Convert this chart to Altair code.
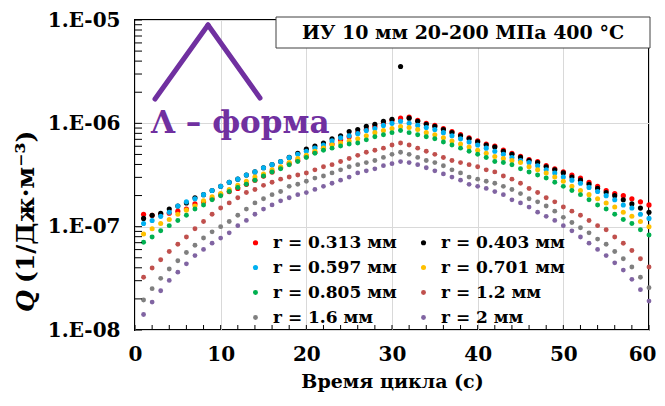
import altair as alt
import pandas as pd

time_s = list(range(1, 61))

labels = ["r = 0.313 мм", "r = 0.403 мм", "r = 0.597 мм", "r = 0.701 мм",
          "r = 0.805 мм", "r = 1.2 мм", "r = 1.6 мм", "r = 2 мм"]
colors = ["#FF0000", "#000000", "#00B0F0", "#FFC000",
          "#00B050", "#C0504D", "#7F7F7F", "#8064A2"]
sizes = [27, 23, 21, 17, 13, 8.5, 6.5, 5]

# log10(Q), t = 1..60 s
log_q_0313 = [-6.88, -6.89, -6.88, -6.87, -6.85, -6.83, -6.78, -6.76, -6.73, -6.69,
              -6.66, -6.63, -6.59, -6.55, -6.51, -6.47, -6.43, -6.39, -6.36, -6.32,
              -6.28, -6.24, -6.20, -6.16, -6.13, -6.09, -6.06, -6.03, -6.00, -5.97,
              -5.95, -5.94, -5.97, -6.00, -6.02, -6.05, -6.08, -6.11, -6.14, -6.17,
              -6.20, -6.22, -6.26, -6.29, -6.32, -6.35, -6.37, -6.41, -6.44, -6.47,
              -6.50, -6.53, -6.57, -6.61, -6.65, -6.68, -6.70, -6.73, -6.76, -6.79]
log_q_0403 = [-6.92, -6.89, -6.87, -6.83, -6.80, -6.77, -6.72, -6.69, -6.65, -6.61,
              -6.57, -6.54, -6.50, -6.47, -6.43, -6.40, -6.37, -6.33, -6.29, -6.25,
              -6.22, -6.19, -6.15, -6.12, -6.08, -6.06, -6.03, -6.01, -5.98, -5.96,
              -5.45, -5.95, -5.98, -6.01, -6.03, -6.06, -6.09, -6.12, -6.15, -6.18,
              -6.21, -6.23, -6.27, -6.30, -6.33, -6.36, -6.38, -6.42, -6.45, -6.48,
              -6.52, -6.55, -6.59, -6.63, -6.67, -6.70, -6.74, -6.78, -6.82, -6.86]
log_q_0597 = [-6.97, -6.94, -6.90, -6.86, -6.80, -6.76, -6.73, -6.69, -6.65, -6.61,
              -6.57, -6.54, -6.50, -6.47, -6.43, -6.40, -6.37, -6.33, -6.30, -6.27,
              -6.24, -6.21, -6.17, -6.14, -6.12, -6.10, -6.07, -6.05, -6.02, -6.00,
              -5.98, -6.00, -6.02, -6.04, -6.06, -6.09, -6.12, -6.15, -6.18, -6.21,
              -6.24, -6.27, -6.30, -6.33, -6.36, -6.38, -6.41, -6.45, -6.48, -6.52,
              -6.55, -6.58, -6.62, -6.66, -6.70, -6.74, -6.79, -6.82, -6.88, -6.92]
log_q_0701 = [-7.07, -7.02, -6.97, -6.93, -6.88, -6.84, -6.80, -6.75, -6.71, -6.68,
              -6.64, -6.60, -6.56, -6.52, -6.49, -6.45, -6.42, -6.38, -6.34, -6.31,
              -6.27, -6.24, -6.21, -6.19, -6.17, -6.15, -6.12, -6.09, -6.07, -6.05,
              -6.03, -6.04, -6.06, -6.09, -6.11, -6.14, -6.17, -6.20, -6.23, -6.26,
              -6.29, -6.32, -6.34, -6.36, -6.38, -6.42, -6.45, -6.48, -6.52, -6.56,
              -6.61, -6.65, -6.69, -6.73, -6.77, -6.81, -6.86, -6.90, -6.95, -7.00]
log_q_0805 = [-7.15, -7.10, -7.04, -6.99, -6.94, -6.89, -6.83, -6.79, -6.74, -6.70,
              -6.66, -6.62, -6.59, -6.55, -6.51, -6.47, -6.44, -6.40, -6.37, -6.33,
              -6.29, -6.26, -6.24, -6.22, -6.20, -6.19, -6.16, -6.13, -6.11, -6.09,
              -6.07, -6.09, -6.11, -6.13, -6.15, -6.18, -6.21, -6.24, -6.27, -6.30,
              -6.33, -6.37, -6.38, -6.40, -6.44, -6.47, -6.50, -6.53, -6.57, -6.61,
              -6.65, -6.69, -6.74, -6.79, -6.83, -6.88, -6.93, -6.97, -7.03, -7.08]
log_q_12 = [-7.49, -7.40, -7.32, -7.24, -7.17, -7.10, -7.02, -6.95, -6.88, -6.82,
            -6.77, -6.72, -6.67, -6.64, -6.60, -6.57, -6.54, -6.52, -6.50, -6.48,
            -6.45, -6.42, -6.40, -6.37, -6.34, -6.31, -6.28, -6.26, -6.24, -6.21,
            -6.19, -6.21, -6.24, -6.27, -6.30, -6.33, -6.36, -6.38, -6.40, -6.42,
            -6.45, -6.47, -6.51, -6.54, -6.58, -6.63, -6.67, -6.72, -6.76, -6.81,
            -6.85, -6.89, -6.94, -6.99, -7.03, -7.10, -7.16, -7.23, -7.31, -7.39]
log_q_16 = [-7.71, -7.60, -7.50, -7.41, -7.33, -7.25, -7.18, -7.11, -7.05, -7.00,
            -6.95, -6.89, -6.83, -6.77, -6.73, -6.69, -6.66, -6.61, -6.59, -6.56,
            -6.53, -6.51, -6.48, -6.45, -6.42, -6.40, -6.38, -6.36, -6.33, -6.30,
            -6.28, -6.30, -6.33, -6.36, -6.38, -6.41, -6.45, -6.48, -6.52, -6.54,
            -6.56, -6.58, -6.61, -6.64, -6.68, -6.73, -6.76, -6.80, -6.85, -6.91,
            -6.96, -7.01, -7.06, -7.12, -7.17, -7.24, -7.31, -7.39, -7.49, -7.59]
log_q_20 = [-7.85, -7.73, -7.62, -7.52, -7.44, -7.36, -7.28, -7.22, -7.16, -7.11,
            -7.06, -6.99, -6.94, -6.88, -6.83, -6.79, -6.75, -6.72, -6.69, -6.67,
            -6.64, -6.61, -6.58, -6.55, -6.52, -6.48, -6.46, -6.44, -6.41, -6.39,
            -6.37, -6.38, -6.40, -6.43, -6.46, -6.49, -6.52, -6.55, -6.59, -6.61,
            -6.63, -6.66, -6.69, -6.74, -6.77, -6.81, -6.86, -6.90, -6.94, -6.99,
            -7.04, -7.10, -7.16, -7.22, -7.28, -7.35, -7.42, -7.51, -7.61, -7.72]

series_logs = [log_q_0313, log_q_0403, log_q_0597, log_q_0701,
               log_q_0805, log_q_12, log_q_16, log_q_20]

x_tick_values = [0, 10, 20, 30, 40, 50, 60]
x_minor_ticks = list(range(0, 61, 2))
y_tick_values = [1e-8, 1e-7, 1e-6, 1e-5]
y_minor_ticks = [m * 10.0 ** e for e in (-8, -7, -6) for m in range(1, 10)] + [1e-5]

FONT = "DejaVu Serif"
W, H = 514, 310

rows = []
for i, (lab, logs) in enumerate(zip(labels, series_logs)):
    for t, lv in zip(time_s, logs):
        rows.append({"t": t, "Q": 10 ** lv, "series": lab, "ord": i})
df = pd.DataFrame(rows)

xs = alt.Scale(domain=[0, 60], nice=False, zero=False)
ys = alt.Scale(type="log", domain=[1e-8, 1e-5], nice=False)

points = alt.Chart(df).mark_circle(opacity=1).encode(
    x=alt.X("t:Q", scale=xs, axis=alt.Axis(
        values=x_tick_values, title="Время цикла (с)", grid=True, ticks=False,
        domain=False, labelPadding=14, titlePadding=8, labelFontSize=20,
        titleFontSize=19, labelFlush=True, labelFlushOffset=7)),
    y=alt.Y("Q:Q", scale=ys, axis=alt.Axis(
        values=y_tick_values, title=None, grid=True, ticks=False, domain=False,
        labelPadding=15, labelFontSize=20,
        labelExpr="replace(format(datum.value, '.0e'), 'e-', '.E-0')")),
    color=alt.Color("series:N", scale=alt.Scale(domain=labels, range=colors),
                    legend=alt.Legend(
                        title=None, orient="none", legendX=112, legendY=214,
                        direction="horizontal", columns=2, symbolType="circle",
                        symbolSize=25, labelFont=FONT, labelFontWeight="bold",
                        labelFontSize=17, labelColor="black", labelOffset=9,
                        rowPadding=7, columnPadding=18, symbolStrokeWidth=0)),
    size=alt.Size("series:N", scale=alt.Scale(domain=labels, range=sizes), legend=None),
    order=alt.Order("ord:Q"),
)

xticks = alt.Chart(pd.DataFrame({"t": x_minor_ticks})).mark_rule(
    color="black", strokeWidth=1).encode(
    x=alt.X("t:Q", scale=xs), y=alt.value(H), y2=alt.value(H - 5))

yticks = alt.Chart(pd.DataFrame({"Q": y_minor_ticks})).mark_rule(
    color="black", strokeWidth=1).encode(
    y=alt.Y("Q:Q", scale=ys), x=alt.value(0), x2=alt.value(7))

one = pd.DataFrame({"a": [0]})
lam_left = alt.Chart(one).mark_rule(color="#7030A0", strokeWidth=5, strokeCap="round").encode(
    x=alt.value(20), y=alt.value(79), x2=alt.value(73), y2=alt.value(5))
lam_right = alt.Chart(one).mark_rule(color="#7030A0", strokeWidth=5, strokeCap="round").encode(
    x=alt.value(73), y=alt.value(5), x2=alt.value(125), y2=alt.value(78))
lam_text = alt.Chart(one).mark_text(
    text="Λ – форма", font=FONT, fontWeight="bold", fontSize=31, color="#7030A0",
    align="left", baseline="alphabetic").encode(x=alt.value(16), y=alt.value(113))

box = alt.Chart(one).mark_rect(fill="white", stroke="#404040", strokeWidth=1).encode(
    x=alt.value(141), x2=alt.value(515), y=alt.value(-3), y2=alt.value(28))
box_text = alt.Chart(one).mark_text(
    text="ИУ 10 мм 20-200 МПа 400 °С", font=FONT, fontWeight="bold", fontSize=19,
    color="black", align="center", baseline="middle").encode(
    x=alt.value(328), y=alt.value(13))

ytitle_q = alt.Chart(one).mark_text(
    text="Q", font=FONT, fontWeight="bold", fontStyle="italic", fontSize=25,
    angle=270, align="left", baseline="middle", color="black").encode(
    x=alt.value(-109), y=alt.value(292))
ytitle_rest = alt.Chart(one).mark_text(
    text="(1/Дж·м⁻³)", font=FONT, fontWeight="bold", fontSize=25,
    angle=270, align="left", baseline="middle", color="black").encode(
    x=alt.value(-109), y=alt.value(263))

chart = alt.layer(
    points, xticks, yticks, lam_left, lam_right, lam_text, box, box_text,
    ytitle_q, ytitle_rest
).properties(
    width=W, height=H,
    autosize=alt.AutoSizeParams(type="none"),
    padding={"left": 127, "top": 12, "right": 8, "bottom": 66},
).configure_view(
    stroke="black", strokeWidth=2
).configure_axis(
    labelFont=FONT, labelFontWeight="bold", labelColor="black",
    titleFont=FONT, titleFontWeight="bold", titleColor="black",
    gridColor="#D9D9D9", gridWidth=1
)

chart.save("out.html", embed_options={"renderer": "svg", "actions": False})
